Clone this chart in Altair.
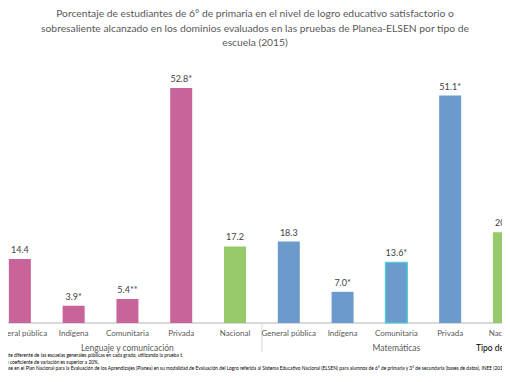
import altair as alt
import pandas as pd

# ---- data ----
categories = ["General pública", "Indígena", "Comunitaria", "Privada", "Nacional",
              "General pública", "Indígena", "Comunitaria", "Privada", "Nacional"]
groups = ["Lenguaje y comunicación"] * 5 + ["Matemáticas"] * 5
values = [14.4, 3.9, 5.4, 52.8, 17.2, 18.3, 7.0, 13.6, 51.1, 20.4]
labels = ["14.4", "3.9*", "5.4**", "52.8*", "17.2", "18.3", "7.0*", "13.6*", "51.1*", "20.4"]
colors = ["#C8649A"] * 4 + ["#95C96A"] + ["#6B9BCC"] * 4 + ["#95C96A"]
outlined = [False] * 7 + [True] + [False] * 2

group_names = ["Lenguaje y comunicación", "Matemáticas"]
group_centers = [2, 7]

title_lines = [
    "Porcentaje de estudiantes de 6° de primaria  en el nivel de logro educativo satisfactorio o",
    "sobresaliente alcanzado en los dominios evaluados en las pruebas de Planea-ELSEN por tipo de",
    "escuela (2015)",
]
notes = [
    "* Estadísticamente diferente de las escuelas generales públicas en cada grado, utilizando la prueba t.",
    "** Estimación cuyo coeficiente de variación es superior a 20%.",
    "Fuente: INEE, cálculos con base en el Plan Nacional para la Evaluación de los Aprendizajes (Planea) en su modalidad de Evaluación del Logro referida al Sistema Educativo Nacional (ELSEN) para alumnos de 6° de primaria y 3° de secundaria  (bases de datos), INEE (2015).",
]
note_right = [175, 91, 500]
note_y = [348, 354.7, 361]

df = pd.DataFrame({
    "idx": list(range(len(categories))),
    "cat": categories,
    "group": groups,
    "value": values,
    "zero": [0.0] * len(values),
    "label": labels,
    "color": colors,
    "outlined": outlined,
})
gdf = pd.DataFrame({"group": group_names, "idx": group_centers})
sdf = pd.DataFrame({"pos": [4.5]})

W, H = 494, 366
xs = alt.Scale(domain=[-0.1275, 8.871], nice=False, zero=False)
ys = alt.Scale(domain=[-11.458, 70.77], nice=False, zero=False)
FONT = "Lato"

base = alt.Chart(df)

bars = base.mark_bar(size=22).encode(
    x=alt.X("idx:Q", scale=xs, axis=None),
    y=alt.Y("value:Q", scale=ys, axis=None),
    y2="zero:Q",
    color=alt.Color("color:N", scale=None),
)

outline = base.transform_filter("datum.outlined").mark_bar(
    size=22, fillOpacity=0, stroke="#4FD0D8", strokeWidth=1.2
).encode(
    x=alt.X("idx:Q", scale=xs, axis=None),
    y=alt.Y("value:Q", scale=ys, axis=None),
    y2="zero:Q",
)

vals = base.mark_text(dy=-9, fontSize=9, font=FONT, color="#404040").encode(
    x=alt.X("idx:Q", scale=xs, axis=None), y=alt.Y("value:Q", scale=ys, axis=None), text="label:N"
)

cats = base.mark_text(fontSize=8, font=FONT, color="#595959", baseline="middle").encode(
    x=alt.X("idx:Q", scale=xs, axis=None), y=alt.value(326), text="cat:N"
)

glabels = alt.Chart(gdf).mark_text(fontSize=8.5, font=FONT, color="#595959", baseline="middle").encode(
    x=alt.X("idx:Q", scale=xs, axis=None), y=alt.value(340), text="group:N"
)

axis_line = base.mark_rule(color="#D9D9D9", strokeWidth=1).encode(
    x=alt.value(0), x2=alt.value(W), y=alt.Y("zero:Q", scale=ys, axis=None)
)

sep = alt.Chart(sdf).mark_rule(color="#D9D9D9").encode(
    x=alt.X("pos:Q", scale=xs, axis=None), y=alt.value(315), y2=alt.value(344)
)

tipo = alt.Chart(sdf).mark_text(fontSize=8.5, font=FONT, color="#000000",
                                align="left", baseline="middle").encode(
    x=alt.value(468), y=alt.value(340), text=alt.value("Tipo de escuela")
)

title_layers = [
    alt.Chart(sdf).mark_text(fontSize=10.3, font=FONT, color="#595959", baseline="middle").encode(
        x=alt.value(247), y=alt.value(yy), text=alt.value(t)
    )
    for t, yy in zip(title_lines, [6, 20.5, 35])
]

note_layers = [
    alt.Chart(sdf).mark_text(fontSize=4.8, font=FONT, color="#000000",
                             align="right", baseline="middle").encode(
        x=alt.value(xr), y=alt.value(yy), text=alt.value(n)
    )
    for n, xr, yy in zip(notes, note_right, note_y)
]

chart = alt.layer(
    axis_line, sep, bars, outline, vals, cats, glabels, tipo, *title_layers, *note_layers
).properties(
    width=W, height=H, padding=0, autosize=alt.AutoSizeParams(type="none")
).configure_view(strokeWidth=0)

chart.save("out.html", embed_options={"renderer": "svg", "actions": False})
